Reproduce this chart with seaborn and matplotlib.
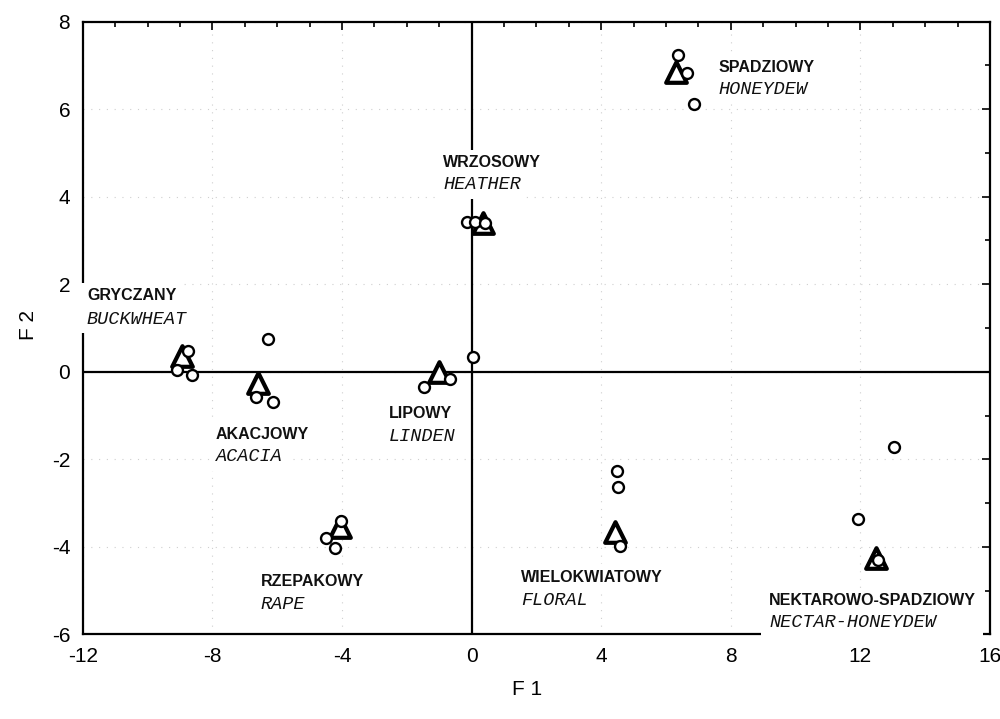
import matplotlib
matplotlib.use("Agg")
import matplotlib.pyplot as plt
import numpy as np
import pandas as pd
import seaborn as sns
from matplotlib.ticker import MultipleLocator
from matplotlib.patches import Rectangle

# ---------------- data ----------------
groups_pl = ["GRYCZANY", "AKACJOWY", "LIPOWY", "WRZOSOWY", "SPADZIOWY",
             "RZEPAKOWY", "WIELOKWIATOWY", "NEKTAROWO-SPADZIOWY"]
groups_en = ["BUCKWHEAT", "ACACIA", "LINDEN", "HEATHER", "HONEYDEW",
             "RAPE", "FLORAL", "NECTAR-HONEYDEW"]

# group centroids (triangles)
centroid_f1 = [-8.95, -6.60, -1.00, 0.35, 6.30, -4.05, 4.43, 12.49]
centroid_f2 = [0.35, -0.25, 0.00, 3.40, 6.85, -3.55, -3.67, -4.25]

# individual samples (circles)
sample_group = ["GRYCZANY"] * 3 + ["AKACJOWY"] * 3 + ["LIPOWY"] * 3 + ["WRZOSOWY"] * 3 + \
               ["SPADZIOWY"] * 3 + ["RZEPAKOWY"] * 3 + ["WIELOKWIATOWY"] * 3 + ["NEKTAROWO-SPADZIOWY"] * 3
sample_f1 = [-8.74, -9.08, -8.62,
             -6.27, -6.66, -6.14,
             -1.47, -0.66, 0.06,
             -0.15, 0.12, 0.40,
             6.36, 6.64, 6.85,
             -4.50, -4.20, -4.02,
             4.48, 4.53, 4.58,
             13.03, 11.93, 12.53]
sample_f2 = [0.47, 0.05, -0.07,
             0.75, -0.58, -0.69,
             -0.34, -0.16, 0.33,
             3.42, 3.42, 3.40,
             7.25, 6.83, 6.11,
             -3.80, -4.02, -3.40,
             -2.27, -2.63, -3.99,
             -1.73, -3.36, -4.30]

x_ticks = [-12, -8, -4, 0, 4, 8, 12, 16]
y_ticks = [-6, -4, -2, 0, 2, 4, 6, 8]

# ---------------- layout (label anchor positions, data units) ----------------
label_pos = {
    "GRYCZANY": (-11.87, 1.74, 1.20),
    "AKACJOWY": (-7.89, -1.43, -1.94),
    "LIPOWY": (-2.55, -0.95, -1.48),
    "WRZOSOWY": (-0.88, 4.78, 4.28),
    "SPADZIOWY": (7.61, 6.96, 6.45),
    "RZEPAKOWY": (-6.50, -4.79, -5.32),
    "WIELOKWIATOWY": (1.53, -4.70, -5.23),
    "NEKTAROWO-SPADZIOWY": (9.18, -5.23, -5.73),
}

df_s = pd.DataFrame({"F1": sample_f1, "F2": sample_f2, "group": sample_group})
df_c = pd.DataFrame({"F1": centroid_f1, "F2": centroid_f2, "group": groups_pl})

sns.set_theme(style="white")
plt.rcParams["font.family"] = ["Liberation Sans", "DejaVu Sans"]
plt.rcParams["axes.unicode_minus"] = False

fig = plt.figure(figsize=(10, 7.19), dpi=100)
ax = fig.add_axes([0.0827, 0.1178, 0.9073, 0.8520])

ax.axhline(0, color="black", lw=1.6, zorder=2)
ax.axvline(0, color="black", lw=1.6, zorder=2)

sns.scatterplot(data=df_c, x="F1", y="F2", marker="^", s=220, facecolor="white",
                edgecolor="black", linewidth=3.0, ax=ax, zorder=4, legend=False)
sns.scatterplot(data=df_s, x="F1", y="F2", marker="o", s=62, facecolor="white",
                edgecolor="black", linewidth=1.7, ax=ax, zorder=5, legend=False)

ax.set_xlim(-12, 16)
ax.set_ylim(-6, 8)
ax.set_xticks(x_ticks)
ax.set_yticks(y_ticks)
ax.xaxis.set_minor_locator(MultipleLocator(1))
ax.yaxis.set_minor_locator(MultipleLocator(1))
ax.tick_params(which="both", direction="in", top=True, right=True, color="black", width=1.2)
ax.tick_params(which="major", length=6, labelsize=15, pad=9, labelcolor="black")
ax.tick_params(which="minor", length=3.5)

ax.grid(True, which="major", color="#cfcfcf", ls=(0, (1, 6)), lw=0.8, zorder=0)

for sp in ax.spines.values():
    sp.set_color("black")
    sp.set_linewidth(1.6)

ax.set_xlabel("F 1", fontsize=15, color="black")
ax.set_ylabel("F 2", fontsize=15, color="black")
ax.xaxis.set_label_coords(0.49, -0.075)
ax.yaxis.set_label_coords(-0.049, 0.505)

# white gap in the bottom frame behind the last label (as in the scanned original)
ax.add_patch(Rectangle((8.94, -6.25), 6.85, 1.3, facecolor="white", edgecolor="none",
                       zorder=5.5, clip_on=False))

for pl, en in zip(groups_pl, groups_en):
    lx, ly1, ly2 = label_pos[pl]
    ax.text(lx, ly1, pl, ha="left", va="center", fontsize=11.5, fontweight="bold",
            family=["Liberation Sans", "DejaVu Sans"], color="#111111",
            bbox=dict(fc="white", ec="none", pad=4), zorder=6, clip_on=False)
    ax.text(lx, ly2, en, ha="left", va="center", fontsize=13.3, style="italic",
            family=["Liberation Mono", "DejaVu Sans Mono"], color="#111111",
            bbox=dict(fc="white", ec="none", pad=4), zorder=6, clip_on=False)

fig.savefig("out.png", dpi=100)
